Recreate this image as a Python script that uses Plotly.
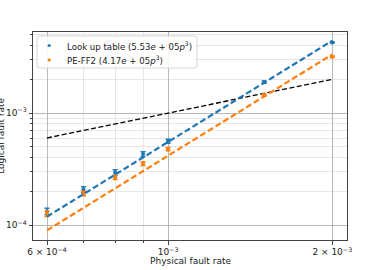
import plotly.graph_objects as go

# physical fault rates
p = [6e-4, 7e-4, 8e-4, 9e-4, 1e-3, 1.5e-3, 2e-3]

lut_vals = [1.33e-4, 2.08e-4, 2.96e-4, 4.31e-4, 5.62e-4, 1.89e-3, 4.27e-3]
lut_err = [9e-6, 1.3e-5, 1.6e-5, 2.1e-5, 2.3e-5, 4e-5, 6e-5]
ff2_vals = [1.27e-4, 1.92e-4, 2.67e-4, 3.55e-4, 4.77e-4, 1.45e-3, 3.18e-3]
ff2_err = [7e-6, 9e-6, 1.1e-5, 1.3e-5, 1.6e-5, 3e-5, 5e-5]

# fitted curves (5.53e5 p^3 and 4.17e5 p^3) and the p = p reference line
lut_fit = [1.194e-4, 1.897e-4, 2.831e-4, 4.031e-4, 5.53e-4, 1.866e-3, 4.424e-3]
ff2_fit = [9.01e-5, 1.430e-4, 2.135e-4, 3.040e-4, 4.17e-4, 1.407e-3, 3.336e-3]
ref_line = [6e-4, 7e-4, 8e-4, 9e-4, 1e-3, 1.5e-3, 2e-3]

lut_name = "Look up table (5.53<i>e</i> + 05<i>p</i><sup>3</sup>)"
ff2_name = "PE-FF2 (4.17<i>e</i> + 05<i>p</i><sup>3</sup>)"

x_tickvals = [6e-4, 1e-3, 2e-3]
x_ticktext = ["6 × 10<sup>−4</sup>", "10<sup>−3</sup>", "2 × 10<sup>−3</sup>"]
y_tickvals = [1e-4, 1e-3]
y_ticktext = ["10<sup>−4</sup>", "10<sup>−3</sup>"]
x_minor = [7e-4, 8e-4, 9e-4, 2e-3]
y_minor = [2e-4, 3e-4, 4e-4, 5e-4, 6e-4, 7e-4, 8e-4, 9e-4, 2e-3, 3e-3, 4e-3, 5e-3]

BLUE = "#1f77b4"
ORANGE = "#ff7f0e"
FONT = "DejaVu Sans"

W, H = 388, 270
ML, MR, MT, MB = 33, 41, 32, 30
PW, PH = W - ML - MR, H - MT - MB


def px(xp):
    return (xp - ML) / PW


def py(yp):
    return (H - MB - yp) / PH


fig = go.Figure()
fig.add_trace(go.Scatter(x=p, y=ref_line, mode="lines", showlegend=False,
                         line=dict(color="black", width=1.3, dash="5px,2.5px")))
fig.add_trace(go.Scatter(x=p, y=lut_vals, mode="markers", name=lut_name,
                         showlegend=False, marker=dict(color=BLUE, size=4),
                         error_y=dict(type="data", array=lut_err, color=BLUE,
                                      thickness=1.5, width=2.5)))
fig.add_trace(go.Scatter(x=p, y=ff2_vals, mode="markers", name=ff2_name,
                         showlegend=False, marker=dict(color=ORANGE, size=4),
                         error_y=dict(type="data", array=ff2_err, color=ORANGE,
                                      thickness=1.5, width=2.5)))
fig.add_trace(go.Scatter(x=p, y=lut_fit, mode="lines", showlegend=False,
                         line=dict(color=BLUE, width=2.2, dash="6px,3px")))
fig.add_trace(go.Scatter(x=p, y=ff2_fit, mode="lines", showlegend=False,
                         line=dict(color=ORANGE, width=2.2, dash="6px,3px")))

axis_common = dict(
    type="log", showline=True, mirror=True, linecolor="#444", linewidth=1,
    ticks="outside", ticklen=3.5, tickcolor="#444", tickwidth=1,
    showgrid=True, gridcolor="#b8b8b8", gridwidth=1, zeroline=False,
    automargin=False,
    tickfont=dict(family=FONT, size=9, color="#222"),
)

fig.update_xaxes(**axis_common, range=[-3.2475, -2.672],
                 tickmode="array", tickvals=x_tickvals, ticktext=x_ticktext,
                 minor=dict(tickvals=x_minor, ticks="outside", ticklen=2,
                            tickcolor="#444", showgrid=True, gridcolor="#e6e6e6",
                            gridwidth=1))
fig.update_yaxes(**axis_common, range=[-4.131, -2.277],
                 tickmode="array", tickvals=y_tickvals, ticktext=y_ticktext,
                 minor=dict(tickvals=y_minor, ticks="outside", ticklen=2,
                            tickcolor="#444", showgrid=True, gridcolor="#e6e6e6",
                            gridwidth=1))

# legend box (matplotlib style, rounded corners)
x0, x1, y0, y1, r = 37, 197, 36, 68, 3
path = (f"M {px(x0 + r)} {py(y0)} L {px(x1 - r)} {py(y0)} "
        f"Q {px(x1)} {py(y0)} {px(x1)} {py(y0 + r)} L {px(x1)} {py(y1 - r)} "
        f"Q {px(x1)} {py(y1)} {px(x1 - r)} {py(y1)} L {px(x0 + r)} {py(y1)} "
        f"Q {px(x0)} {py(y1)} {px(x0)} {py(y1 - r)} L {px(x0)} {py(y0 + r)} "
        f"Q {px(x0)} {py(y0)} {px(x0 + r)} {py(y0)} Z")
shapes = [dict(type="path", xref="paper", yref="paper", path=path,
               fillcolor="rgba(255,255,255,0.85)", line=dict(color="#d6d6d6", width=1),
               layer="above")]
annotations = []
for (name, col, yrow) in [(lut_name, BLUE, 45.5), (ff2_name, ORANGE, 60)]:
    shapes.append(dict(type="circle", xref="paper", yref="paper",
                       x0=px(47.6), x1=px(50.8), y0=py(yrow - 1.6), y1=py(yrow + 1.6),
                       fillcolor=col, line=dict(width=0), layer="above"))
    annotations.append(dict(text=name, xref="paper", yref="paper", x=px(65),
                            y=py(yrow), xanchor="left", yanchor="middle",
                            showarrow=False,
                            font=dict(family=FONT, size=8.6, color="#222")))

annotations += [
    dict(text="Physical fault rate", xref="paper", yref="paper",
         x=0.5, y=py(260.5), xanchor="center", yanchor="middle",
         showarrow=False, font=dict(family=FONT, size=9, color="#222")),
    dict(text="Logical fault rate", xref="paper", yref="paper",
         x=px(0.8), y=0.5, xanchor="center", yanchor="middle", textangle=-90,
         showarrow=False, font=dict(family=FONT, size=9, color="#222")),
]

fig.update_layout(
    width=W, height=H,
    margin=dict(l=ML, r=MR, t=MT, b=MB, autoexpand=False),
    paper_bgcolor="white", plot_bgcolor="white",
    font=dict(family=FONT, size=9, color="#222"),
    showlegend=False,
    shapes=shapes,
    annotations=annotations,
)

fig.write_html("out.html",
               config={"displayModeBar": False},
               post_script="document.body.style.margin='0';"
                           "document.body.style.overflow='hidden';")
